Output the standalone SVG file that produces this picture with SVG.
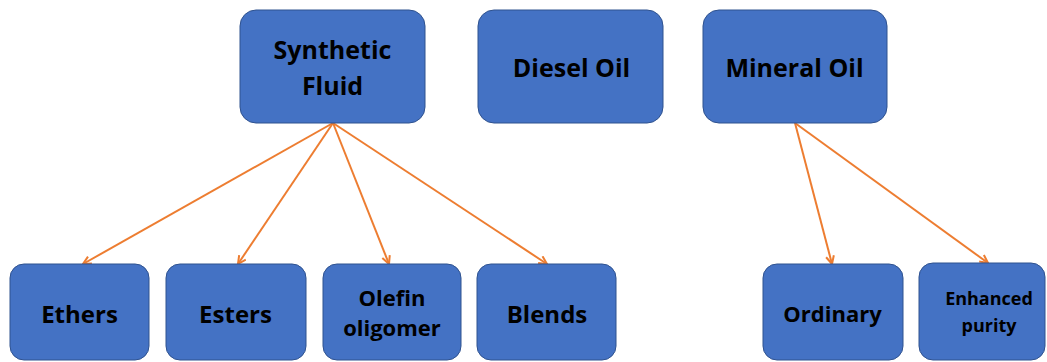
<svg xmlns="http://www.w3.org/2000/svg" width="1047" height="362" viewBox="0 0 1047 362">
<style>
.box{fill:#4472C4;stroke:#2F528F;stroke-width:1}
.t{font-family:"Open Sans","Liberation Sans",sans-serif;font-weight:bold;fill:#000;text-anchor:middle}
.l{font-size:25px}
.m{font-size:24px}
.s{font-size:22px}
.xs{font-size:18px}
.c{stroke:#ED7D31;stroke-width:2;fill:none;marker-end:url(#ah)}
</style>
<defs>
<marker id="ah" viewBox="0 0 10 10" refX="9" refY="5" markerWidth="5" markerHeight="5" orient="auto" markerUnits="strokeWidth">
<path d="M1,1 L9,5 L1,9" fill="none" stroke="#ED7D31" stroke-width="2"/>
</marker>
</defs>
<rect width="1047" height="362" fill="#fff"/>
<g id="connectors">
<line class="c" x1="333" y1="123" x2="83" y2="264"/>
<line class="c" x1="333" y1="123" x2="238" y2="264"/>
<line class="c" x1="333" y1="123" x2="389" y2="264"/>
<line class="c" x1="333" y1="123" x2="547" y2="264"/>
<line class="c" x1="795" y1="123" x2="832" y2="264"/>
<line class="c" x1="795" y1="123" x2="988" y2="263"/>
</g>
<g id="synthetic"><rect class="box" x="240" y="10" width="185" height="113" rx="16"/><text class="t l" x="332.5" y="59">Synthetic</text><text class="t l" x="332.5" y="95">Fluid</text></g>
<g id="diesel"><rect class="box" x="478" y="10" width="185" height="113" rx="16"/><text class="t l" x="571.5" y="77">Diesel Oil</text></g>
<g id="mineral"><rect class="box" x="703" y="10" width="184" height="113" rx="16"/><text class="t l" x="794.5" y="77">Mineral Oil</text></g>
<g id="ethers"><rect class="box" x="10" y="264" width="139" height="96" rx="14"/><text class="t m" x="79.5" y="323">Ethers</text></g>
<g id="esters"><rect class="box" x="166" y="264" width="140" height="96" rx="14"/><text class="t m" x="235.5" y="323">Esters</text></g>
<g id="olefin"><rect class="box" x="323" y="264" width="138" height="96" rx="14"/><text class="t s" x="392" y="306">Olefin</text><text class="t s" x="392" y="336">oligomer</text></g>
<g id="blends"><rect class="box" x="477" y="264" width="139" height="96" rx="14"/><text class="t m" x="547" y="323">Blends</text></g>
<g id="ordinary"><rect class="box" x="763" y="264" width="140" height="96" rx="14"/><text class="t s" x="832.5" y="322">Ordinary</text></g>
<g id="enhanced"><rect class="box" x="919" y="263" width="126" height="97" rx="14"/><text class="t xs" x="989" y="305">Enhanced</text><text class="t xs" x="989" y="332">purity</text></g>
</svg>
